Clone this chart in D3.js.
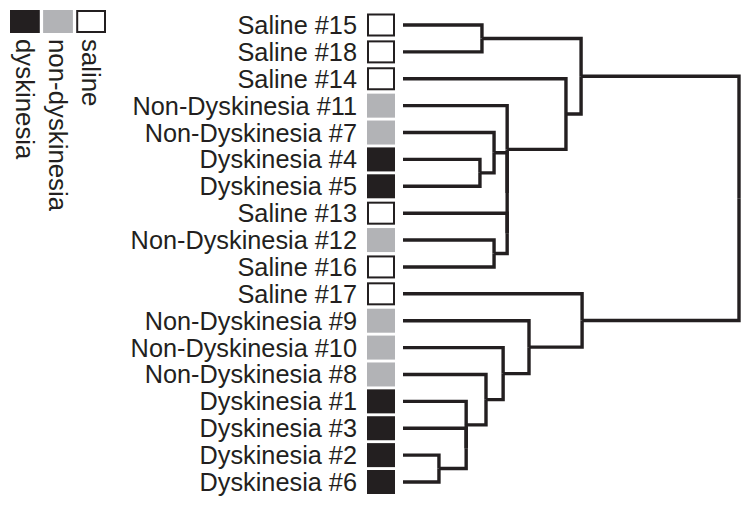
<!DOCTYPE html>
<html>
<head>
<meta charset="utf-8">
<script src="https://cdn.jsdelivr.net/npm/d3@7"></script>
<style>
  html, body { margin: 0; padding: 0; background: #fff; }
  svg { display: block; }
  text { font-family: "Liberation Sans", Arial, Helvetica, sans-serif; fill: #231f20; }
</style>
</head>
<body>
<svg id="chart" width="751" height="506"></svg>
<script>
// ---- data ----
const leaves = [
  "Saline #15", "Saline #18", "Saline #14", "Non-Dyskinesia #11", "Non-Dyskinesia #7",
  "Dyskinesia #4", "Dyskinesia #5", "Saline #13", "Non-Dyskinesia #12", "Saline #16",
  "Saline #17", "Non-Dyskinesia #9", "Non-Dyskinesia #10", "Non-Dyskinesia #8",
  "Dyskinesia #1", "Dyskinesia #3", "Dyskinesia #2", "Dyskinesia #6"
];
const leafGroups = [
  "saline", "saline", "saline", "non-dyskinesia", "non-dyskinesia",
  "dyskinesia", "dyskinesia", "saline", "non-dyskinesia", "saline",
  "saline", "non-dyskinesia", "non-dyskinesia", "non-dyskinesia",
  "dyskinesia", "dyskinesia", "dyskinesia", "dyskinesia"
];
// merges: [id, childA, childB, height (relative distance, root = 100)]
const merges = [
  ["m0",  "Saline #15", "Saline #18", 23.5],
  ["m1",  "Dyskinesia #4", "Dyskinesia #5", 22.9],
  ["m2",  "Non-Dyskinesia #7", "m1", 27.1],
  ["m3",  "Non-Dyskinesia #12", "Saline #16", 27.1],
  ["m4",  "Saline #13", "m3", 31.0],
  ["m5",  "m2", "m4", 31.0],
  ["m6",  "Non-Dyskinesia #11", "m5", 31.0],
  ["m7",  "Saline #14", "m6", 48.5],
  ["m8",  "m0", "m7", 53.0],
  ["m9",  "Dyskinesia #2", "Dyskinesia #6", 10.7],
  ["m10", "Dyskinesia #3", "m9", 18.8],
  ["m11", "Dyskinesia #1", "m10", 18.8],
  ["m12", "Non-Dyskinesia #8", "m11", 24.7],
  ["m13", "Non-Dyskinesia #10", "m12", 29.8],
  ["m14", "Non-Dyskinesia #9", "m13", 37.5],
  ["m15", "Saline #17", "m14", 53.3],
  ["root","m8", "m15", 100]
];
const legendGroups = ["dyskinesia", "non-dyskinesia", "saline"];

// ---- styles ----
const DARK = "#231f20", GRAY = "#b2b3b6";
const fillOf = g => g === "dyskinesia" ? DARK : g === "non-dyskinesia" ? GRAY : "#fff";

const svg = d3.select("#chart");

// ---- build tree ----
const nodeMap = {};
leaves.forEach((name, i) => nodeMap[name] = { name, height: 0, group: leafGroups[i] });
merges.forEach(([id, a, b, h]) => nodeMap[id] = { name: id, height: h, children: [nodeMap[a], nodeMap[b]] });
const root = d3.hierarchy(nodeMap["root"]);

const x = d3.scaleLinear().domain([0, 100]).range([403, 739]);
const y = d3.scalePoint().domain(leaves).range([25, 482]);

root.eachAfter(n => {
  n.px = x(n.data.height);
  if (!n.children) n.py = y(n.data.name);
  else n.py = (n.children[0].py + n.children[1].py) / 2;
});

// ---- links ----
svg.append("g")
  .selectAll("path")
  .data(root.links())
  .join("path")
  .attr("d", l => `M${l.target.px},${l.target.py}H${l.source.px}V${l.source.py}`)
  .attr("fill", "none")
  .attr("stroke", DARK)
  .attr("stroke-width", 3.4)
  .attr("stroke-linejoin", "miter")
  .attr("stroke-linecap", "butt");

// ---- leaf boxes ----
const boxX = 367, boxW = 28, boxH = 24;
svg.append("g")
  .selectAll("rect")
  .data(leaves)
  .join("rect")
  .each(function (d, i) {
    const g = leafGroups[i];
    const r = d3.select(this);
    if (g === "saline") {
      r.attr("x", boxX + 1).attr("y", y(d) - 10.5).attr("width", boxW - 2).attr("height", 21)
       .attr("fill", "#fff").attr("stroke", DARK).attr("stroke-width", 2);
    } else {
      r.attr("x", boxX).attr("y", y(d) - boxH / 2).attr("width", boxW).attr("height", boxH)
       .attr("fill", fillOf(g));
    }
  });

// ---- leaf labels ----
svg.append("g")
  .selectAll("text")
  .data(leaves)
  .join("text")
  .attr("x", 357)
  .attr("y", d => y(d) + 9)
  .attr("text-anchor", "end")
  .attr("font-size", 25.3)
  .text(d => d);

// ---- legend ----
const lx = d3.scaleBand().domain(legendGroups).range([10, 106]).paddingInner(0.1);
const leg = svg.append("g");
leg.selectAll("rect")
  .data(legendGroups)
  .join("rect")
  .each(function (g) {
    const r = d3.select(this);
    if (g === "saline") {
      r.attr("x", lx(g) + 1).attr("y", 11).attr("width", lx.bandwidth() - 2).attr("height", 21)
       .attr("fill", "#fff").attr("stroke", DARK).attr("stroke-width", 2);
    } else {
      r.attr("x", lx(g)).attr("y", 10).attr("width", lx.bandwidth()).attr("height", 23)
       .attr("fill", fillOf(g));
    }
  });
leg.selectAll("text")
  .data(legendGroups)
  .join("text")
  .attr("transform", g => `translate(${lx(g) + 6},39) rotate(90)`)
  .attr("font-size", 25.8)
  .text(g => g);
</script>
</body>
</html>
